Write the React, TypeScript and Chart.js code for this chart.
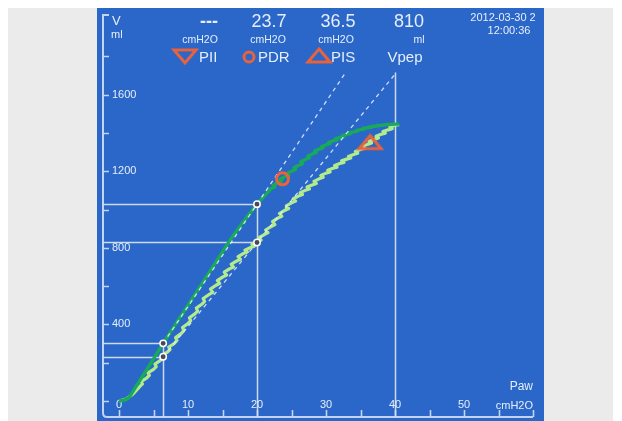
import React, { useEffect, useRef } from "react";
import { Chart, registerables } from "chart.js";

Chart.register(...registerables);

const W = 622;
const H = 421;

// ---- data: Paw (cmH2O), Volume (ml) ----
const lowerLimb: number[][] = [
  [0, 0], [1, 10], [2, 35], [3, 75], [3.4, 89], [3.2, 102], [4, 120], [4.4, 134], [4.2, 147],
  [5, 165], [5.4, 179], [5.2, 193], [6, 212], [6.4, 225], [6.2, 238], [7, 255], [7.4, 269], [7.2, 282],
  [8, 300], [8.4, 316], [8.2, 331], [9, 352], [9.4, 368], [9.2, 384], [10, 405], [10.4, 420], [10.2, 435],
  [11, 455], [11.4, 470], [11.2, 485], [12, 505], [12.4, 520], [12.2, 535], [13, 555], [13.6, 567], [13.25, 584],
  [14, 603], [14.6, 614], [14.25, 629], [15, 647], [15.6, 658], [15.25, 673], [16, 690], [16.6, 700], [16.25, 714],
  [17, 730], [17.6, 740], [17.25, 754], [18, 770], [18.6, 778], [18.25, 788], [19, 800], [19.6, 808], [19.25, 818],
  [20, 830], [20.6, 840], [20.25, 853], [21, 868], [21.6, 879], [21.25, 893], [22, 910], [22.6, 921], [22.25, 937],
  [23, 955], [23.6, 965], [23.25, 979], [24, 995], [24.6, 1005], [24.25, 1019], [25, 1035], [25.6, 1044], [25.25, 1056],
  [26, 1070], [26.6, 1078], [26.25, 1088], [27, 1100], [27.6, 1107], [27.25, 1117], [28, 1128], [28.6, 1136], [28.25, 1147],
  [29, 1160], [29.6, 1168], [29.25, 1178], [30, 1190], [30.6, 1196], [30.25, 1205], [31, 1215], [31.6, 1221], [31.25, 1230],
  [32, 1240], [32.6, 1246], [32.25, 1254], [33, 1263], [33.6, 1269], [33.25, 1277], [34, 1287], [34.6, 1294], [34.25, 1303],
  [35, 1313], [35.6, 1320], [35.25, 1329], [36, 1340], [36.6, 1347], [36.25, 1356], [37, 1366], [37.6, 1373], [37.25, 1382],
  [38, 1393], [38.6, 1399], [38.25, 1407], [39, 1416], [39.6, 1422], [39.25, 1430], [40, 1440], [40.6, 1443],
];

const upperLimb: number[][] = [
  [0, 0], [0.8, 5], [1.5, 20], [2, 49], [3, 106], [4, 163], [5, 220], [6, 278], [6.4, 301], [8, 390],
  [10, 500], [12, 612], [14, 722], [16, 835], [18, 935], [20, 1028], [22, 1108], [22.6, 1118], [22.35, 1127],
  [23, 1140], [23.6, 1149], [23.35, 1158], [24, 1170], [24.6, 1179], [24.35, 1188], [25, 1200], [25.6, 1209], [25.35, 1218],
  [26, 1230], [26.6, 1239], [26.35, 1249], [27, 1261], [27.6, 1270], [27.35, 1278], [28, 1290], [28.6, 1298], [28.35, 1305],
  [29, 1315], [29.6, 1322], [29.35, 1329], [30, 1338], [30.6, 1344], [30.35, 1350], [31, 1358], [31.6, 1363], [31.35, 1369],
  [32, 1376], [32.6, 1381], [32.35, 1386], [33, 1392], [33.6, 1396], [33.35, 1400], [34, 1405], [34.6, 1409], [34.35, 1412],
  [35, 1417], [35.6, 1420], [35.35, 1423], [36, 1427], [36.6, 1429], [36.35, 1432], [37, 1435], [37.6, 1437], [37.35, 1439],
  [38, 1440], [39, 1444], [40, 1446], [40.6, 1446],
];

const upperMarkers: number[][] = [[6.4, 301], [20, 1028]];
const lowerMarkers: number[][] = [[6.4, 231], [20, 828]];
const upperTangent: number[][] = [[6.4, 301], [32.9, 1718]];
const lowerTangent: number[][] = [[6.4, 231], [40.2, 1715]];
const pdrPoint: number[][] = [[23.7, 1160]];
const pisPoint: number[][] = [[36.4, 1352]];
const vpepPaw = 40;

const xTickValues = [0, 5, 10, 15, 20, 25, 30, 35, 40, 45, 50, 55, 60];
const xTickLabels = ["0", "10", "20", "30", "40", "50"];
const xLabelValues = [0, 10, 20, 30, 40, 50];
const yTickValues = [0, 200, 400, 600, 800, 1000, 1200, 1400, 1600, 1800];
const yLabelValues = [400, 800, 1200, 1600];

const headerValues = ["---", "23.7", "36.5", "810"];
const headerUnits = ["cmH2O", "cmH2O", "cmH2O", "ml"];
const headerNames = ["PII", "PDR", "PIS", "Vpep"];
const timestamp = ["2012-03-30 2", "12:00:36"];

// ---- styles ----
const BLUE = "#2a67c9";
const AXIS = "#c4d4ef";
const TEXT = "#e6eefa";
const ORANGE = "#e8633c";
const DARK_GREEN = "#18a95a";
const LIGHT_GREEN = "#b2ea8e";
const FONT = '"Liberation Sans", Arial, sans-serif';

const toXY = (arr: number[][]) => arr.map(([x, y]) => ({ x, y }));

function triangleCanvas(up: boolean) {
  const c = document.createElement("canvas");
  c.width = 28;
  c.height = 19;
  const g = c.getContext("2d")!;
  g.strokeStyle = ORANGE;
  g.lineWidth = 3;
  g.lineJoin = "miter";
  g.beginPath();
  if (up) {
    g.moveTo(14, 3);
    g.lineTo(25, 16);
    g.lineTo(3, 16);
  } else {
    g.moveTo(3, 3);
    g.lineTo(25, 3);
    g.lineTo(14, 16);
  }
  g.closePath();
  g.stroke();
  return c;
}

const panelPlugin = {
  id: "pvPanel",
  beforeDraw(chart: any) {
    const { ctx, chartArea: a, scales } = chart;
    const xs = scales.x;
    const ys = scales.y;
    const ax = a.left - 16;
    const ay = a.bottom + 16;
    ctx.save();
    ctx.fillStyle = "#ffffff";
    ctx.fillRect(0, 0, W, H);
    ctx.fillStyle = "#ebebeb";
    ctx.fillRect(8, 8, 605, H - 8);
    ctx.fillStyle = BLUE;
    ctx.fillRect(a.left - 22, 8, 447, H - 8);

    // axes
    ctx.strokeStyle = AXIS;
    ctx.lineWidth = 2;
    ctx.beginPath();
    ctx.moveTo(ax + 6, 15);
    ctx.lineTo(ax, 15);
    ctx.lineTo(ax, ay - 4);
    ctx.quadraticCurveTo(ax, ay, ax + 4, ay);
    ctx.lineTo(xs.getPixelForValue(xTickValues[xTickValues.length - 1]), ay);
    ctx.stroke();

    ctx.beginPath();
    yTickValues.forEach((v) => {
      const py = Math.round(ys.getPixelForValue(v)) + 0.5;
      ctx.moveTo(ax, py);
      ctx.lineTo(ax + 6, py);
    });
    xTickValues.forEach((v) => {
      const px = Math.round(xs.getPixelForValue(v)) + 0.5;
      ctx.moveTo(px, ay);
      ctx.lineTo(px, ay - 7);
    });
    ctx.lineWidth = 1.6;
    ctx.stroke();

    ctx.fillStyle = TEXT;
    ctx.font = `11px ${FONT}`;
    ctx.textBaseline = "middle";
    ctx.textAlign = "left";
    yLabelValues.forEach((v) => {
      ctx.fillText(String(v), ax + 9, ys.getPixelForValue(v));
    });
    ctx.textAlign = "center";
    xLabelValues.forEach((v, i) => {
      ctx.fillText(xTickLabels[i], xs.getPixelForValue(v), ay - 12);
    });

    // axis titles
    ctx.textAlign = "left";
    ctx.font = `13px ${FONT}`;
    ctx.fillText("V", ax + 9, 21);
    ctx.font = `11px ${FONT}`;
    ctx.fillText("ml", ax + 8, 35);
    ctx.textAlign = "right";
    ctx.font = `12px ${FONT}`;
    ctx.fillText("Paw", a.right, ay - 30);
    ctx.font = `11px ${FONT}`;
    ctx.fillText("cmH2O", a.right, ay - 11);

    // header values
    const valX = [209, 269, 338, 409];
    const unitX = [200, 268, 336, 419];
    ctx.textAlign = "center";
    headerValues.forEach((t, i) => {
      ctx.font = `${i === 0 ? "bold 18px" : "18px"} ${FONT}`;
      ctx.fillText(t, valX[i], 22);
    });
    ctx.font = `10.5px ${FONT}`;
    headerUnits.forEach((t, i) => {
      ctx.fillText(t, unitX[i], 40);
    });

    // legend names
    ctx.font = `15px ${FONT}`;
    ctx.textAlign = "left";
    ctx.fillText(headerNames[0], 199, 58);
    ctx.fillText(headerNames[1], 258, 58);
    ctx.fillText(headerNames[2], 331, 58);
    ctx.textAlign = "center";
    ctx.fillText(headerNames[3], 405, 58);

    // legend symbols
    ctx.drawImage(triangleCanvas(false), 171, 47);
    ctx.drawImage(triangleCanvas(true), 305, 46);
    ctx.strokeStyle = ORANGE;
    ctx.lineWidth = 3;
    ctx.beginPath();
    ctx.arc(249, 57, 5, 0, Math.PI * 2);
    ctx.stroke();

    // timestamp
    ctx.fillStyle = TEXT;
    ctx.font = `11px ${FONT}`;
    ctx.textAlign = "center";
    ctx.fillText(timestamp[0], 503, 18);
    ctx.fillText(timestamp[1], 509, 31);
    ctx.restore();
  },
  beforeDatasetsDraw(chart: any) {
    const { ctx, chartArea: a, scales } = chart;
    const xs = scales.x;
    const ys = scales.y;
    const ax = a.left - 16;
    const ay = a.bottom + 16;
    ctx.save();
    ctx.strokeStyle = "rgba(214,224,240,0.95)";
    ctx.lineWidth = 1.5;
    ctx.beginPath();
    const all = [...upperMarkers, ...lowerMarkers];
    all.forEach(([x, y]) => {
      const px = xs.getPixelForValue(x);
      const py = Math.round(ys.getPixelForValue(y)) + 0.5;
      ctx.moveTo(ax, py);
      ctx.lineTo(px, py);
    });
    upperMarkers.forEach(([x, y]) => {
      const px = Math.round(xs.getPixelForValue(x)) + 0.5;
      ctx.moveTo(px, ay);
      ctx.lineTo(px, ys.getPixelForValue(y));
    });
    const vx = Math.round(xs.getPixelForValue(vpepPaw)) + 0.5;
    ctx.moveTo(vx, ay);
    ctx.lineTo(vx, ys.getPixelForValue(lowerTangent[1][1]));
    ctx.stroke();
    ctx.restore();
  },
};

export default function App() {
  const ref = useRef<HTMLCanvasElement | null>(null);
  useEffect(() => {
    if (!ref.current) return;
    const chart = new Chart(ref.current, {
      type: "scatter",
      data: {
        datasets: [
          {
            data: toXY([...upperMarkers, ...lowerMarkers]),
            pointStyle: "circle",
            pointRadius: 3.2,
            pointBackgroundColor: "#4a4a55",
            pointBorderColor: "#ffffff",
            pointBorderWidth: 1.5,
            showLine: false,
          },
          {
            data: toXY(pdrPoint),
            pointStyle: "circle",
            pointRadius: 6,
            pointBackgroundColor: "rgba(0,0,0,0)",
            pointBorderColor: ORANGE,
            pointBorderWidth: 3,
            showLine: false,
          },
          {
            data: toXY(pisPoint),
            pointStyle: triangleCanvas(true),
            showLine: false,
          },
          {
            data: toXY(upperTangent),
            showLine: true,
            pointRadius: 0,
            borderColor: "rgba(225,235,250,0.9)",
            borderWidth: 1.3,
            borderDash: [4, 4],
          },
          {
            data: toXY(lowerTangent),
            showLine: true,
            pointRadius: 0,
            borderColor: "rgba(225,235,250,0.9)",
            borderWidth: 1.3,
            borderDash: [4, 4],
          },
          {
            data: toXY(upperLimb),
            showLine: true,
            pointRadius: 0,
            borderColor: DARK_GREEN,
            borderWidth: 3.4,
            borderJoinStyle: "round",
            tension: 0,
          },
          {
            data: toXY(lowerLimb),
            showLine: true,
            pointRadius: 0,
            borderColor: LIGHT_GREEN,
            borderWidth: 3.2,
            borderJoinStyle: "round",
            tension: 0,
          },
        ],
      },
      options: {
        animation: false,
        responsive: false,
        devicePixelRatio: 1,
        events: [],
        clip: false as any,
        layout: { padding: { left: 119, right: 89, top: 18, bottom: 20 } },
        scales: {
          x: { type: "linear", min: 0, max: 60, display: false },
          y: { type: "linear", min: 0, max: 2000, display: false },
        },
        plugins: { legend: { display: false }, tooltip: { enabled: false } },
      },
      plugins: [panelPlugin],
    });
    return () => chart.destroy();
  }, []);
  return (
    <div style={{ position: "fixed", left: 0, top: 0, width: W, height: H }}>
      <canvas ref={ref} width={W} height={H} style={{ width: W, height: H, display: "block" }} />
    </div>
  );
}
